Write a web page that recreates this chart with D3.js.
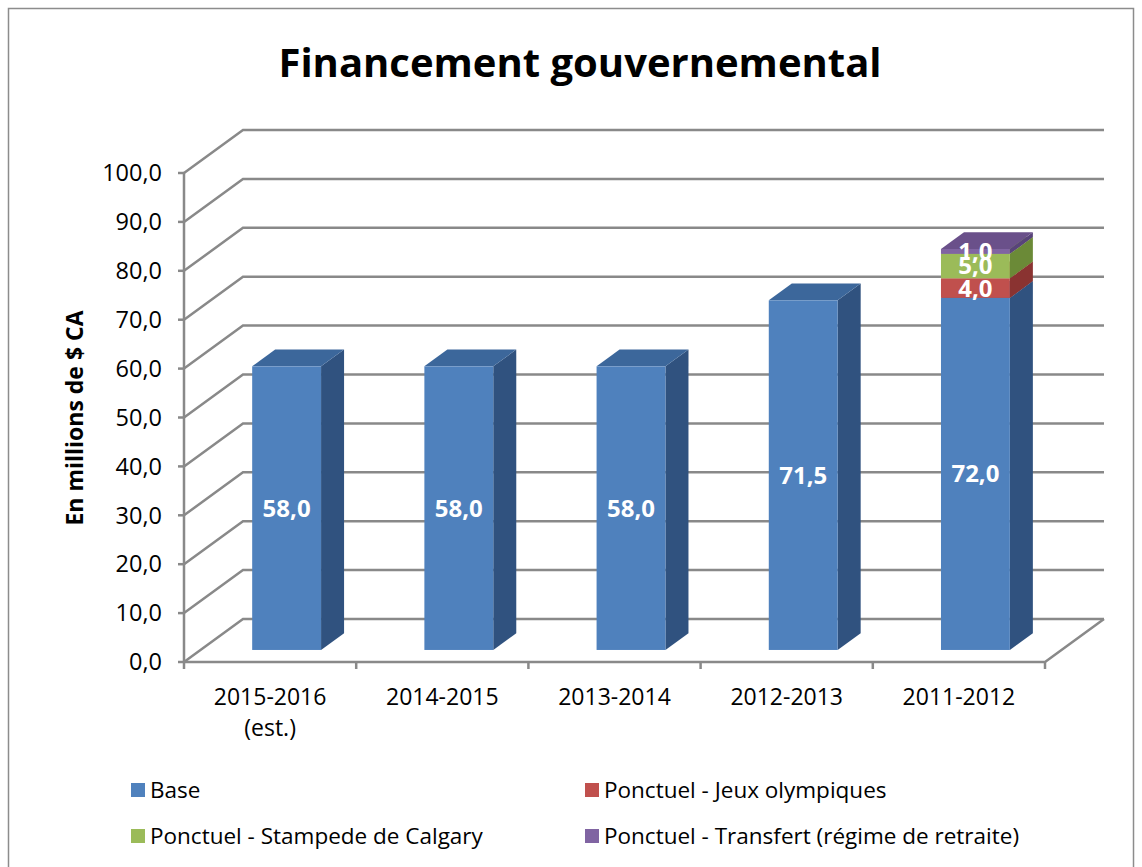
<!DOCTYPE html>
<html>
<head>
<meta charset="utf-8">
<script src="https://cdn.jsdelivr.net/npm/d3@7"></script>
<style>
  body { margin: 0; background: #fff; }
  svg { display: block; font-family: "Open Sans", sans-serif; }
  .grid { fill: none; stroke: #898989; stroke-width: 2.5; }
</style>
</head>
<body>
<svg id="chart" width="1142" height="867"></svg>
<script>
// data
var categories = ["2015-2016 (est.)", "2014-2015", "2013-2014", "2012-2013", "2011-2012"];
var seriesNames = ["Base", "Ponctuel - Jeux olympiques", "Ponctuel - Stampede de Calgary", "Ponctuel - Transfert (régime de retraite)"];
var base = [58.0, 58.0, 58.0, 71.5, 72.0];
var jeux = [0, 0, 0, 0, 4.0];
var stampede = [0, 0, 0, 0, 5.0];
var transfert = [0, 0, 0, 0, 1.0];
var yTicks = [0, 10, 20, 30, 40, 50, 60, 70, 80, 90, 100];

var colors = [
  {front: "#4f81bd", side: "#30527f", top: "#3c679b"},
  {front: "#c0504d", side: "#8a3331", top: "#a33e3b"},
  {front: "#9bbb59", side: "#6b8a37", top: "#84a148"},
  {front: "#8064a2", side: "#58437a", top: "#6a508a"}
];

var svg = d3.select("#chart");
var fr = d3.formatLocale({decimal: ",", thousands: " ", grouping: [3], currency: ["", "$"]});
var fmt = fr.format(".1f");

// border
svg.append("rect").attr("x", 8.5).attr("y", 8.5).attr("width", 1125).attr("height", 880)
  .attr("fill", "none").attr("stroke", "#8c8c8c").attr("stroke-width", 1.5);

svg.append("text").attr("x", 580).attr("y", 77).attr("text-anchor", "middle")
  .attr("font-size", 40).attr("font-weight", "bold").attr("fill", "#000")
  .text("Financement gouvernemental");

var x0 = 184, x1 = 1045;
var y = d3.scaleLinear().domain([0, 100]).range([662, 173]);
var x = d3.scaleBand().domain(categories).range([x0, x1]).paddingInner(0.6).paddingOuter(0.3);
var DX = 59, DY = -43; // depth vector
var fA = 0.28, fB = 0.67; // bar front / back depth fractions

var g = svg.append("g");

// back wall gridlines and side wall diagonals
yTicks.forEach(function (t) {
  var yy = y(t);
  g.append("path").attr("class", "grid")
    .attr("d", "M" + x0 + "," + yy + "L" + (x0 + DX) + "," + (yy + DY) + "L" + (x1 + DX) + "," + (yy + DY));
  g.append("line").attr("class", "grid").attr("x1", x0 - 6).attr("x2", x0).attr("y1", yy).attr("y2", yy);
});
// floor
g.append("path").attr("class", "grid")
  .attr("d", "M" + x0 + "," + y(0) + "L" + x1 + "," + y(0) + "L" + (x1 + DX) + "," + (y(0) + DY));
// vertical axis
g.append("line").attr("class", "grid").attr("x1", x0).attr("x2", x0).attr("y1", y(0)).attr("y2", y(100));
// category ticks
d3.range(categories.length + 1).forEach(function (i) {
  var xx = x0 + i * x.step();
  g.append("line").attr("class", "grid").attr("x1", xx).attr("x2", xx).attr("y1", y(0)).attr("y2", y(0) + 7);
});

// y tick labels
g.selectAll(".ytl").data(yTicks).enter().append("text")
  .attr("x", 162).attr("y", function (d) { return y(d); }).attr("dy", "0.35em")
  .attr("text-anchor", "end").attr("font-size", 23.5).attr("fill", "#000")
  .text(function (d) { return fmt(d); });

// x labels
categories.forEach(function (c) {
  var parts = c.split(" ");
  var t = g.append("text").attr("x", x(c) + x.bandwidth() / 2).attr("y", 705)
    .attr("text-anchor", "middle").attr("font-size", 23).attr("fill", "#000");
  parts.forEach(function (p, i) {
    t.append("tspan").attr("x", x(c) + x.bandwidth() / 2).attr("dy", i ? 31 : 0).text(p);
  });
});

// y axis title
svg.append("text").attr("transform", "translate(83,418) rotate(-90)")
  .attr("text-anchor", "middle").attr("font-size", 23).attr("font-weight", "bold")
  .text("En millions de $ CA");

// stacked 3D bars
var stackData = categories.map(function (c, i) {
  return {cat: c, base: base[i], jeux: jeux[i], stampede: stampede[i], transfert: transfert[i]};
});
var stacked = d3.stack().keys(["base", "jeux", "stampede", "transfert"])(stackData);

var ax = DX * fA, ay = DY * fA;
var bx = DX * (fB - fA), by = DY * (fB - fA);
function pts(a) { return a.map(function (p) { return p[0] + "," + p[1]; }).join(" "); }

categories.forEach(function (c, ci) {
  var left = x(c) + ax, right = left + x.bandwidth();
  var bars = g.append("g");
  stacked.forEach(function (s, si) {
    var v0 = s[ci][0], v1 = s[ci][1];
    if (v1 - v0 <= 0) return;
    var yb = y(v0) + ay, yt = y(v1) + ay;
    var col = colors[si];
    bars.append("polygon").attr("fill", col.side)
      .attr("points", pts([[right, yb], [right + bx, yb + by], [right + bx, yt + by], [right, yt]]));
    bars.append("polygon").attr("fill", col.top)
      .attr("points", pts([[left, yt], [right, yt], [right + bx, yt + by], [left + bx, yt + by]]));
    bars.append("rect").attr("x", left).attr("y", yt).attr("width", right - left).attr("height", yb - yt)
      .attr("fill", col.front);
  });
  stacked.forEach(function (s, si) {
    var v0 = s[ci][0], v1 = s[ci][1];
    if (v1 - v0 <= 0) return;
    bars.append("text").attr("x", (left + right) / 2).attr("y", (y(v0) + y(v1)) / 2 + ay)
      .attr("dy", "0.35em").attr("text-anchor", "middle")
      .attr("font-size", 24).attr("font-weight", "bold").attr("fill", "#fff")
      .text(fmt(v1 - v0));
  });
});

// legend
var legPos = [[131, 790], [585, 790], [131, 836], [585, 836]];
seriesNames.forEach(function (n, i) {
  var lg = svg.append("g").attr("transform", "translate(" + legPos[i][0] + "," + legPos[i][1] + ")");
  lg.append("rect").attr("x", 0).attr("y", -7).attr("width", 14).attr("height", 14).attr("fill", colors[i].front);
  lg.append("text").attr("x", 19).attr("y", 0).attr("dy", "0.35em").attr("font-size", 22.5).attr("fill", "#000").text(n);
});
</script>
</body>
</html>
